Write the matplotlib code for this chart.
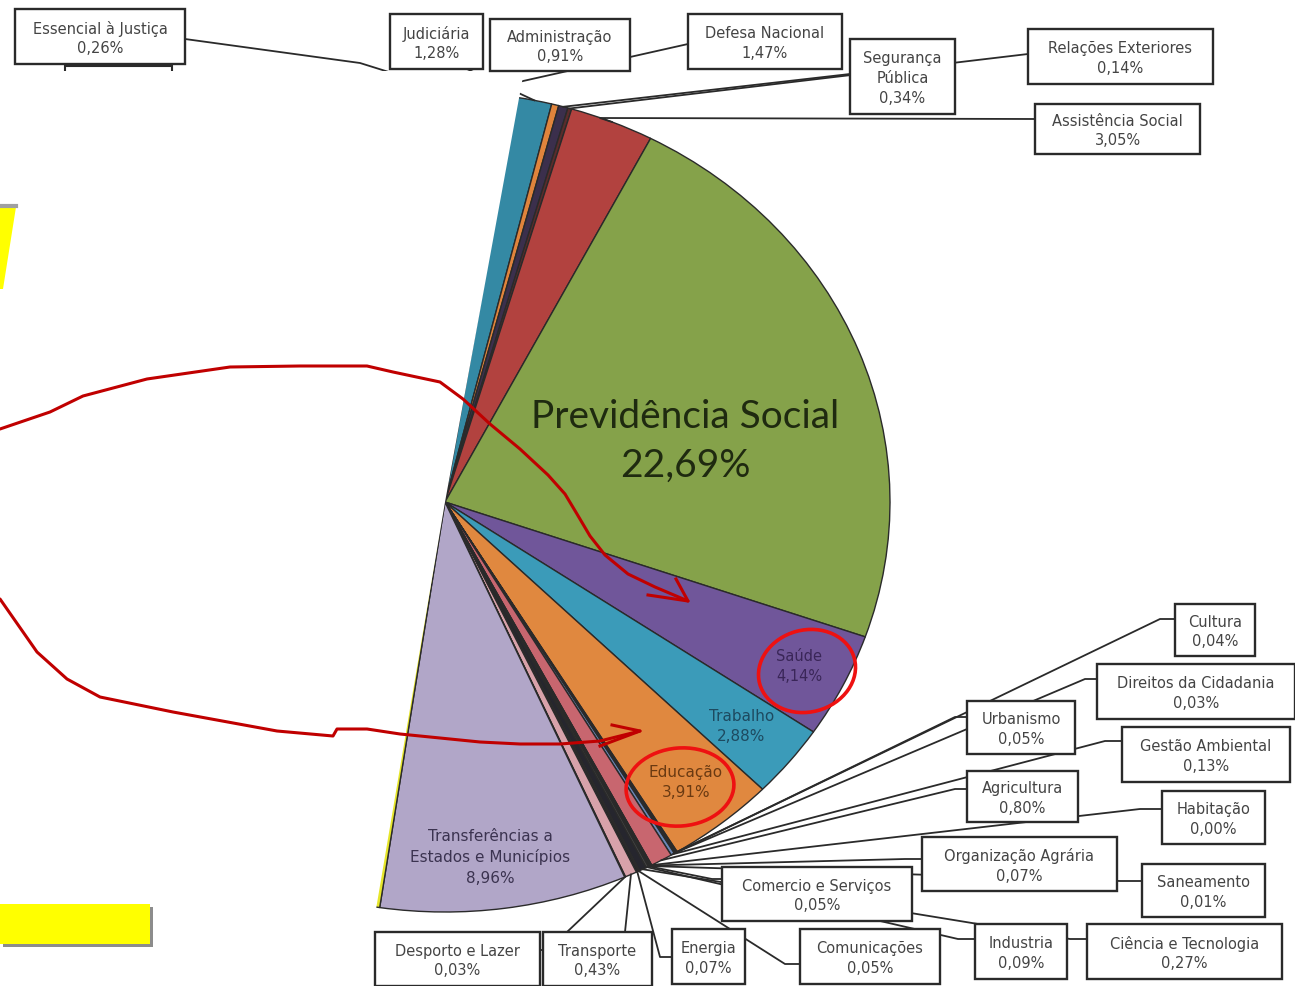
import numpy as np
import matplotlib.pyplot as plt
from matplotlib.patches import Rectangle, Polygon, Ellipse

plt.rcParams['font.family'] = ['DejaVu Sans']

# Funções do orçamento, na ordem do gráfico (sentido horário a partir do topo)
funcoes = ['Defesa Nacional', 'Administração', 'Judiciária', 'Essencial à Justiça',
           'Segurança Pública', 'Relações Exteriores', 'Assistência Social',
           'Previdência Social', 'Saúde', 'Trabalho', 'Educação',
           'Cultura', 'Direitos da Cidadania', 'Urbanismo', 'Gestão Ambiental',
           'Agricultura', 'Habitação', 'Organização Agrária', 'Saneamento',
           'Comercio e Serviços', 'Industria', 'Ciência e Tecnologia',
           'Comunicações', 'Energia', 'Transporte', 'Desporto e Lazer',
           'Transferências a Estados e Municípios']
percentuais = [1.47, 0.91, 1.28, 0.26, 0.34, 0.14, 3.05, 22.69, 4.14, 2.88, 3.91,
               0.04, 0.03, 0.05, 0.13, 0.80, 0.00, 0.07, 0.01, 0.05, 0.09, 0.27,
               0.05, 0.07, 0.43, 0.03, 8.96]
cores = ['white', 'white', '#3489a4', '#e0843c', '#3b2f4c', '#5b2c2c', '#b2423f',
         '#85a24a', '#70569a', '#3b9bb9', '#e0883f',
         '#4f6fa0', '#8ea0c8', '#303050', '#6a88b8', '#c8666f', '#222222',
         '#2a2a2a', '#333333', '#1d1d1d', '#444444', '#26262e', '#3a3a3a',
         '#222222', '#d8a2aa', '#cc8080', '#b1a6c8']
# parte encoberta do gráfico (resto até 100%)
encoberto = 100 - sum(percentuais)

# nomes com quebra de linha nas caixas
rotulos = {'Segurança Pública': 'Segurança\nPública',
           'Transferências a Estados e Municípios': 'Transferências a\nEstados e Municípios'}

# caixas (x0, y0, x1, y1) em pixels e ponto de ligação da linha guia
caixas = {
    'Essencial à Justiça': ((15, 10, 185, 65), [(185, 40)]),
    'Judiciária': ((390, 15, 483, 70), [(467, 70)]),
    'Administração': ((490, 20, 630, 72), []),
    'Defesa Nacional': ((688, 15, 842, 70), [(688, 45)]),
    'Segurança Pública': ((850, 40, 955, 115), [(850, 75)]),
    'Relações Exteriores': ((1028, 30, 1213, 85), [(1028, 55)]),
    'Assistência Social': ((1035, 105, 1200, 155), [(1035, 120), (600, 119)]),
    'Cultura': ((1175, 605, 1255, 657), [(1175, 620), (1160, 620)]),
    'Direitos da Cidadania': ((1097, 665, 1295, 720), [(1097, 680), (1085, 680)]),
    'Urbanismo': ((967, 702, 1075, 755), [(967, 718), (955, 718)]),
    'Gestão Ambiental': ((1122, 728, 1290, 783), [(1122, 742), (1105, 742)]),
    'Agricultura': ((967, 772, 1078, 823), [(967, 790), (955, 790)]),
    'Habitação': ((1162, 792, 1265, 845), [(1162, 810), (1140, 810)]),
    'Organização Agrária': ((922, 838, 1117, 892), [(922, 860), (905, 860)]),
    'Saneamento': ((1142, 865, 1265, 918), [(1142, 882), (1120, 882)]),
    'Comercio e Serviços': ((722, 868, 912, 922), [(722, 880), (712, 880)]),
    'Industria': ((975, 925, 1067, 980), [(975, 940), (958, 940)]),
    'Ciência e Tecnologia': ((1087, 925, 1282, 980), [(1087, 940), (1070, 940)]),
    'Comunicações': ((800, 930, 940, 985), [(800, 965), (785, 965)]),
    'Energia': ((672, 930, 745, 985), [(672, 958), (660, 958)]),
    'Transporte': ((543, 933, 652, 987), [(625, 933)]),
    'Desporto e Lazer': ((375, 933, 540, 987), [(540, 951), (548, 951)]),
}

# rótulos dentro das fatias: (raio relativo, deslocamento angular, fonte, tamanho, cor)
internos = {
    'Previdência Social': (0.56, 6, 'Lato', 28, '#1f2a10'),
    'Saúde': (0.89, 0, 'DejaVu Sans', 10.5, '#3a2658'),
    'Trabalho': (0.86, 0, 'DejaVu Sans', 11, '#1d4a60'),
    'Educação': (0.87, 0, 'DejaVu Sans', 11, '#6a3a12'),
    'Transferências a Estados e Municípios': (0.87, 1, 'DejaVu Sans', 11, '#3b3350'),
}

fig = plt.figure(figsize=(12.95, 9.87), dpi=100)
W, H = 1295, 987
cx, cy, rx, ry = 445, 503, 445, 410

ax = fig.add_axes([(cx - rx) / W, (H - cy - ry) / H, 2 * rx / W, 2 * ry / H])
valores = percentuais + [encoberto]
wedges, _ = ax.pie(valores, colors=cores + ['#e6e62a'], startangle=89.3,
                   counterclock=False, radius=1,
                   wedgeprops=dict(edgecolor='#2a2a2a', linewidth=1.0))
ax.set_aspect('auto')
ax.set_xlim(-1, 1)
ax.set_ylim(-1, 1)

sobre = fig.add_axes([0, 0, 1, 1])
sobre.set_xlim(0, W)
sobre.set_ylim(H, 0)
sobre.axis('off')
sobre.patch.set_alpha(0)


def para_pixel(x, y):
    return sobre.transData.inverted().transform(ax.transData.transform((x, y)))


def ponto_fatia(w, r=1.0, dtheta=0.0):
    t = np.deg2rad((w.theta1 + w.theta2) / 2 + dtheta)
    return para_pixel(r * np.cos(t), r * np.sin(t))


# linhas guia
for nome, (caixa, pontos) in caixas.items():
    if not pontos:
        continue
    w = wedges[funcoes.index(nome)]
    borda = ponto_fatia(w)
    xs = [p[0] for p in pontos]
    ys = [p[1] for p in pontos]
    if nome == 'Essencial à Justiça':
        xs += [360, 392]
        ys += [64, 74]
    else:
        xs.append(borda[0])
        ys.append(borda[1])
    sobre.plot(xs, ys, color='#2a2a2a', lw=1.3, zorder=1)

# caixa parcialmente encoberta sob "Essencial à Justiça"
sobre.add_patch(Rectangle((65, 67), 107, 40, fc='white', ec='#2a2a2a', lw=1.5, zorder=1.5))

# área encoberta (branca)
sobre.add_patch(Polygon([(0, 72), (524, 72), (445, 503), (363, 987), (0, 987)],
                        closed=True, fc='white', ec='none', zorder=2))

# caixas de rótulo
for nome, (caixa, pontos) in caixas.items():
    x0, y0, x1, y1 = caixa
    pct = percentuais[funcoes.index(nome)]
    texto = rotulos.get(nome, nome) + '\n' + f'{pct:.2f}%'.replace('.', ',')
    sobre.add_patch(Rectangle((x0, y0), x1 - x0, y1 - y0, fc='white', ec='#2a2a2a',
                              lw=1.7, zorder=3))
    sobre.text((x0 + x1) / 2, (y0 + y1) / 2 + 1, texto, ha='center', va='center',
               fontsize=10.5, color='#444444', linespacing=1.4, zorder=4)

# rótulos internos
for nome, (r, dt, fonte, tam, cor) in internos.items():
    w = wedges[funcoes.index(nome)]
    px, py = ponto_fatia(w, r, -dt)
    pct = percentuais[funcoes.index(nome)]
    texto = rotulos.get(nome, nome) + '\n' + f'{pct:.2f}%'.replace('.', ',')
    sobre.text(px, py, texto, ha='center', va='center', family=fonte, fontsize=tam,
               color=cor, linespacing=1.45, zorder=4)

# elementos amarelos do slide
sobre.add_patch(Polygon([(0, 208), (16, 208), (3, 290), (0, 290)], closed=True,
                        fc='#ffff00', ec='none', zorder=5))
sobre.plot([0, 16], [207, 207], color='#a0a0a0', lw=3, zorder=5)
sobre.add_patch(Rectangle((3, 908), 150, 40, fc='#8c8c8c', ec='none', zorder=5))
sobre.add_patch(Rectangle((0, 905), 150, 40, fc='#ffff00', ec='none', zorder=5))

# anotações à mão em vermelho
seta1 = [(0, 430), (50, 413), (83, 397), (147, 380), (230, 368), (300, 367), (367, 367),
         (393, 373), (440, 383), (463, 400), (490, 425), (520, 450), (548, 476),
         (565, 495), (577, 515), (590, 537), (605, 556), (628, 575), (655, 588),
         (688, 602)]
seta2 = [(0, 600), (37, 653), (67, 680), (100, 698), (173, 713), (277, 732), (333, 737),
         (337, 730), (367, 730), (400, 735), (480, 743), (520, 745), (560, 745),
         (600, 742), (640, 732)]
for s in (seta1, seta2):
    sobre.plot([p[0] for p in s], [p[1] for p in s], color='#c00000', lw=2.2,
               solid_capstyle='round', zorder=6)
sobre.plot([648, 688, 676], [596, 602, 580], color='#c00000', lw=2.2, zorder=6)
sobre.plot([600, 640, 612], [747, 732, 726], color='#c00000', lw=2.2, zorder=6)

sobre.add_patch(Ellipse((807, 672), 98, 82, angle=-15, fc='none', ec='#ee1111',
                        lw=2.6, zorder=6))
sobre.add_patch(Ellipse((680, 788), 108, 78, angle=-5, fc='none', ec='#ee1111',
                        lw=2.6, zorder=6))

fig.savefig('out.png', dpi=100)
